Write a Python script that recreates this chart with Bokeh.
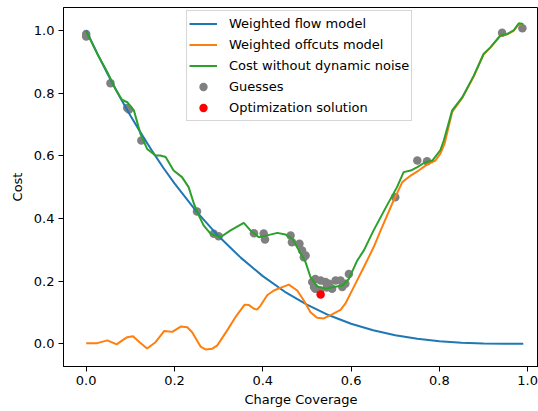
from bokeh.plotting import figure
from bokeh.models import Range1d, FixedTicker, PrintfTickFormatter, Legend, LegendItem
from bokeh.embed import file_html
from bokeh.resources import INLINE

# ---- data ----
flow_x = [0.0, 0.025, 0.05, 0.075, 0.1, 0.125, 0.15, 0.175, 0.2, 0.25, 0.3, 0.35, 0.4,
          0.45, 0.5, 0.55, 0.6, 0.65, 0.7, 0.75, 0.8, 0.85, 0.9, 0.95, 0.99]
flow_y = [1.0, 0.927, 0.857, 0.791, 0.729, 0.670, 0.614, 0.561, 0.512, 0.422, 0.343,
          0.275, 0.216, 0.166, 0.125, 0.091, 0.064, 0.043, 0.027, 0.016, 0.008, 0.003,
          0.001, 0.0, 0.0]

offcuts_x = [0.0, 0.025, 0.048, 0.069, 0.081, 0.093, 0.106, 0.121, 0.138, 0.157, 0.177,
             0.195, 0.214, 0.229, 0.24, 0.259, 0.27, 0.285, 0.297, 0.319, 0.338, 0.359,
             0.368, 0.38, 0.387, 0.395, 0.41, 0.425, 0.444, 0.459, 0.478, 0.493, 0.508,
             0.523, 0.538, 0.557, 0.576, 0.587, 0.606, 0.629, 0.651, 0.667, 0.693, 0.716,
             0.735, 0.753, 0.772, 0.791, 0.802, 0.812, 0.829, 0.852, 0.878, 0.9, 0.916,
             0.938, 0.954, 0.968, 0.98, 0.99]
offcuts_y = [0.002, 0.002, 0.011, -0.002, 0.01, 0.021, 0.024, 0.005, -0.015, 0.005, 0.041,
             0.038, 0.055, 0.053, 0.037, -0.009, -0.018, -0.016, -0.005, 0.042, 0.085, 0.125,
             0.124, 0.112, 0.109, 0.122, 0.155, 0.17, 0.181, 0.189, 0.17, 0.138, 0.101,
             0.083, 0.081, 0.094, 0.108, 0.128, 0.181, 0.245, 0.308, 0.362, 0.447, 0.516,
             0.537, 0.553, 0.572, 0.585, 0.606, 0.640, 0.740, 0.785, 0.854, 0.923, 0.946,
             0.983, 0.988, 0.999, 1.021, 1.02]

cost_x = [0.0, 0.025, 0.048, 0.066, 0.081, 0.093, 0.108, 0.123, 0.138, 0.157, 0.168, 0.18,
          0.198, 0.217, 0.232, 0.244, 0.255, 0.266, 0.282, 0.304, 0.327, 0.357, 0.372,
          0.391, 0.41, 0.433, 0.451, 0.467, 0.482, 0.497, 0.508, 0.523, 0.542, 0.561,
          0.58, 0.595, 0.614, 0.629, 0.651, 0.681, 0.704, 0.719, 0.735, 0.75, 0.765,
          0.784, 0.802, 0.81, 0.829, 0.852, 0.878, 0.9, 0.916, 0.938, 0.954, 0.968,
          0.98, 0.99]
cost_y = [0.998, 0.926, 0.867, 0.814, 0.779, 0.771, 0.745, 0.67, 0.622, 0.601, 0.601, 0.596,
          0.553, 0.532, 0.5, 0.447, 0.41, 0.378, 0.351, 0.34, 0.362, 0.386, 0.362,
          0.34, 0.346, 0.354, 0.349, 0.335, 0.298, 0.26, 0.213, 0.183, 0.176, 0.181,
          0.186, 0.207, 0.266, 0.298, 0.362, 0.441, 0.5, 0.548, 0.553, 0.564, 0.577,
          0.585, 0.617, 0.649, 0.745, 0.787, 0.856, 0.925, 0.947, 0.984, 0.989, 1.0,
          1.023, 1.021]

guess_x = [0.0, 0.0, 0.055, 0.093, 0.097, 0.125, 0.251, 0.289, 0.3, 0.38, 0.402, 0.405,
           0.463, 0.466, 0.483, 0.489, 0.493, 0.497, 0.512, 0.516, 0.519, 0.531, 0.542,
           0.55, 0.565, 0.576, 0.587, 0.58, 0.557, 0.519, 0.53, 0.545, 0.595, 0.70,
           0.75, 0.772, 0.942, 0.988]
guess_y = [0.989, 0.981, 0.832, 0.753, 0.748, 0.649, 0.422, 0.351, 0.343, 0.353, 0.352, 0.333,
           0.346, 0.324, 0.319, 0.298, 0.276, 0.282, 0.197, 0.181, 0.207, 0.202, 0.197,
           0.192, 0.202, 0.202, 0.192, 0.181, 0.176, 0.176, 0.17, 0.18, 0.223, 0.468,
           0.585, 0.583, 0.993, 1.007]

solution_x = [0.531]
solution_y = [0.157]

x_ticks = [0.0, 0.2, 0.4, 0.6, 0.8, 1.0]
y_ticks = [0.0, 0.2, 0.4, 0.6, 0.8, 1.0]

FONT = "DejaVu Sans"

p = figure(width=538, height=411, output_backend="svg", toolbar_location=None,
           x_range=Range1d(-0.0514, 1.0245), y_range=Range1d(-0.0725, 1.0734),
           min_border_left=63, min_border_right=0, min_border_top=7, min_border_bottom=45)
p.background_fill_color = "white"
p.border_fill_color = "white"
p.outline_line_color = "black"
p.outline_line_width = 1
p.xgrid.visible = False
p.ygrid.visible = False

# scatter first (matplotlib draws collections below lines)
r_guess = p.scatter(guess_x, guess_y, size=8.5, color="gray", line_color=None)
r_sol = p.scatter(solution_x, solution_y, size=8.5, color="red", line_color=None)

r_flow = p.line(flow_x, flow_y, line_color="#1f77b4", line_width=2)
r_off = p.line(offcuts_x, offcuts_y, line_color="#ff7f0e", line_width=2)
r_cost = p.line(cost_x, cost_y, line_color="#2ca02c", line_width=2)

for ax, ticks in ((p.xaxis[0], x_ticks), (p.yaxis[0], y_ticks)):
    ax.ticker = FixedTicker(ticks=ticks, minor_ticks=[])
    ax.formatter = PrintfTickFormatter(format="%.1f")
    ax.major_tick_out = 5
    ax.major_tick_in = 0
    ax.minor_tick_out = 0
    ax.minor_tick_in = 0
    ax.axis_line_color = "black"
    ax.major_tick_line_color = "black"
    ax.major_label_text_font = FONT
    ax.major_label_text_font_size = "13px"
    ax.major_label_text_color = "black"
    ax.axis_label_text_font = FONT
    ax.axis_label_text_font_size = "13px"
    ax.axis_label_text_font_style = "normal"
    ax.axis_label_text_color = "black"
    ax.major_label_standoff = 4

p.xaxis.axis_label = "Charge Coverage"
p.yaxis.axis_label = "Cost"
p.xaxis.axis_label_standoff = 4
p.yaxis.axis_label_standoff = 6

legend = Legend(items=[
    LegendItem(label="Weighted flow model", renderers=[r_flow]),
    LegendItem(label="Weighted offcuts model", renderers=[r_off]),
    LegendItem(label="Cost without dynamic noise", renderers=[r_cost]),
    LegendItem(label="Guesses", renderers=[r_guess]),
    LegendItem(label="Optimization solution", renderers=[r_sol]),
], location=(123, 245))
legend.label_text_font = FONT
legend.label_text_font_size = "13px"
legend.label_text_color = "black"
legend.label_height = 21
legend.glyph_height = 21
legend.glyph_width = 28
legend.label_standoff = 12
legend.spacing = 0
legend.padding = 2
legend.margin = 0
legend.border_line_color = "#cccccc"
legend.border_line_alpha = 0.8
legend.background_fill_color = "white"
legend.background_fill_alpha = 0.8
p.add_layout(legend, "center")

open("out.html", "w").write(file_html(p, INLINE))
